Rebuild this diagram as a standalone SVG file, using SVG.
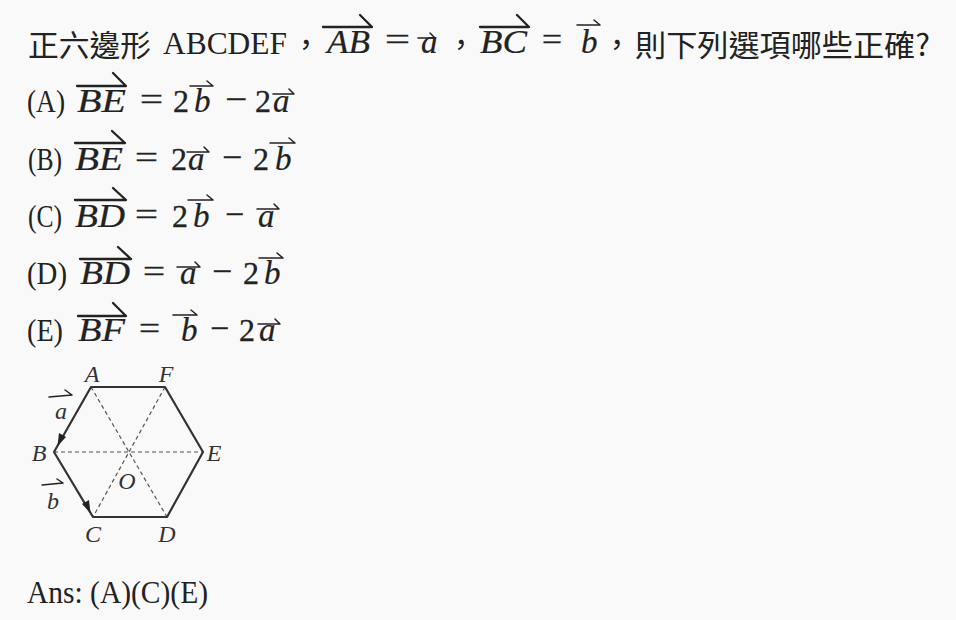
<svg xmlns="http://www.w3.org/2000/svg" width="956" height="620" viewBox="0 0 956 620">
<style>
.t{font-family:"Liberation Serif",serif;font-size:31px;fill:#222}
.d{font-family:"Liberation Serif",serif;font-size:32px;fill:#222;stroke:#222;stroke-width:0.3}
.o{font-family:"Liberation Serif",serif;font-size:32px;fill:#222;stroke:#222;stroke-width:0.4}
.c{font-family:"Noto Sans CJK TC","Noto Sans CJK SC",sans-serif;font-size:30px;fill:#222}
.m{font-family:"Liberation Serif",serif;font-style:italic;font-size:33px;fill:#222;stroke:#222;stroke-width:0.2}
.ar{stroke:#222;stroke-width:2.3;fill:none;stroke-linecap:round}
.va{stroke:#222;stroke-width:1.5;fill:none;stroke-linecap:round}
.lb{font-family:"Liberation Serif",serif;font-style:italic;font-size:24px;fill:#333}
.hx{stroke:#333;stroke-width:2.2;fill:none;stroke-linejoin:round}
.ds{stroke:#555;stroke-width:1.2;stroke-dasharray:4 3;fill:none}
</style>
<rect width="956" height="620" fill="#f9f9f9"/>

<g id="line-question">
<text class="c" x="28" y="56" textLength="123" lengthAdjust="spacingAndGlyphs">正六邊形</text>
<text class="t" x="163" y="54" font-size="29" textLength="124" lengthAdjust="spacingAndGlyphs">ABCDEF</text>
<text class="c" x="291" y="55">，</text>
<text class="m" x="327" y="53" font-size="31" textLength="43" lengthAdjust="spacingAndGlyphs">AB</text>
<path class="ar" d="M323 27H372M360 15L372 27"/>
<text class="o" x="385" y="50" textLength="25" lengthAdjust="spacingAndGlyphs">=</text>
<text class="m" x="421" y="53" font-size="31">a</text>
<path class="va" d="M418 38H435M430 33L435 38"/>
<text class="c" x="446" y="55">，</text>
<text class="m" x="480" y="53" font-size="31" textLength="47" lengthAdjust="spacingAndGlyphs">BC</text>
<path class="ar" d="M480 27H529M517 15L529 27"/>
<text class="o" x="542" y="50" textLength="20" lengthAdjust="spacingAndGlyphs">=</text>
<text class="m" x="581" y="53" font-size="31">b</text>
<path class="va" d="M577 25H600M594 20L600 25"/>
<text class="c" x="602" y="55">，</text>
<text class="c" x="635" y="56" textLength="295" lengthAdjust="spacingAndGlyphs">則下列選項哪些正確?</text>
</g>

<g id="option-a">
<text class="t" x="27" y="112" textLength="38" lengthAdjust="spacingAndGlyphs">(A)</text>
<text class="m" x="77" y="112" textLength="49" lengthAdjust="spacingAndGlyphs">BE</text>
<path class="ar" d="M77 86H126M113 73L126 86"/>
<text class="o" x="140" y="110" textLength="23" lengthAdjust="spacingAndGlyphs">=</text>
<text class="d" x="173" y="112">2</text>
<text class="m" x="194" y="112">b</text>
<path class="va" d="M190 86H213M207 81L213 86"/>
<text class="o" x="225" y="110" textLength="22" lengthAdjust="spacingAndGlyphs">−</text>
<text class="d" x="255" y="112">2</text>
<text class="m" x="273" y="112">a</text>
<path class="va" d="M273 94H294M289 89L294 94"/>
</g>

<g id="option-b">
<text class="t" x="28" y="170" textLength="34" lengthAdjust="spacingAndGlyphs">(B)</text>
<text class="m" x="75" y="170" textLength="48" lengthAdjust="spacingAndGlyphs">BE</text>
<path class="ar" d="M75 143H125M112 131L125 143"/>
<text class="o" x="135" y="168" textLength="23" lengthAdjust="spacingAndGlyphs">=</text>
<text class="d" x="171" y="170">2</text>
<text class="m" x="188" y="170">a</text>
<path class="va" d="M187 152H209M204 147L209 152"/>
<text class="o" x="222" y="168" textLength="20" lengthAdjust="spacingAndGlyphs">−</text>
<text class="d" x="253" y="170">2</text>
<text class="m" x="275" y="170">b</text>
<path class="va" d="M270 143H295M289 138L295 143"/>
</g>

<g id="option-c">
<text class="t" x="28" y="227" textLength="34" lengthAdjust="spacingAndGlyphs">(C)</text>
<text class="m" x="75" y="227" textLength="50" lengthAdjust="spacingAndGlyphs">BD</text>
<path class="ar" d="M75 200H126M113 188L126 200"/>
<text class="o" x="135" y="225" textLength="23" lengthAdjust="spacingAndGlyphs">=</text>
<text class="d" x="172" y="227">2</text>
<text class="m" x="193" y="227">b</text>
<path class="va" d="M188 200H213M207 195L213 200"/>
<text class="o" x="225" y="225" textLength="19" lengthAdjust="spacingAndGlyphs">−</text>
<text class="m" x="258" y="227">a</text>
<path class="va" d="M257 209H279M274 204L279 209"/>
</g>

<g id="option-d">
<text class="t" x="27" y="284" textLength="40" lengthAdjust="spacingAndGlyphs">(D)</text>
<text class="m" x="80" y="284" textLength="50" lengthAdjust="spacingAndGlyphs">BD</text>
<path class="ar" d="M80 259H131M118 247L131 259"/>
<text class="o" x="143" y="282" textLength="22" lengthAdjust="spacingAndGlyphs">=</text>
<text class="m" x="180" y="284">a</text>
<path class="va" d="M177 267H200M195 262L200 267"/>
<text class="o" x="212" y="282" textLength="20" lengthAdjust="spacingAndGlyphs">−</text>
<text class="d" x="243" y="284">2</text>
<text class="m" x="264" y="284">b</text>
<path class="va" d="M259 258H283M277 253L283 258"/>
</g>

<g id="option-e">
<text class="t" x="27" y="341" textLength="36" lengthAdjust="spacingAndGlyphs">(E)</text>
<text class="m" x="78" y="341" textLength="47" lengthAdjust="spacingAndGlyphs">BF</text>
<path class="ar" d="M78 316H126M113 303L126 316"/>
<text class="o" x="139" y="339" textLength="21" lengthAdjust="spacingAndGlyphs">=</text>
<text class="m" x="181" y="341">b</text>
<path class="va" d="M173 315H197M191 310L197 315"/>
<text class="o" x="210" y="339" textLength="19" lengthAdjust="spacingAndGlyphs">−</text>
<text class="d" x="239" y="341">2</text>
<text class="m" x="259" y="341">a</text>
<path class="va" d="M258 324H280M275 319L280 324"/>
</g>

<g id="hexagon-figure">
<path class="ds" d="M91 387L167 517M165 387L93 517M54 452H203"/>
<path class="hx" d="M91 387H165L203 452L167 517H93L54 452Z"/>
<path d="M57.5 446L59 433L66 437Z" fill="#222"/>
<path d="M90.5 513L82 504L89 500Z" fill="#222"/>
<text class="lb" x="92" y="382" text-anchor="middle">A</text>
<text class="lb" x="166" y="382" text-anchor="middle">F</text>
<text class="lb" x="39" y="461" text-anchor="middle">B</text>
<text class="lb" x="214" y="461" text-anchor="middle">E</text>
<text class="lb" x="93" y="542" text-anchor="middle">C</text>
<text class="lb" x="167" y="542" text-anchor="middle">D</text>
<text class="lb" x="127" y="489" text-anchor="middle">O</text>
<text class="lb" x="61" y="419" text-anchor="middle">a</text>
<path class="va" d="M49 397L72 395M65 390L72 395"/>
<text class="lb" x="53" y="509" text-anchor="middle">b</text>
<path class="va" d="M42 485L63 483M57 479L63 483"/>
</g>

<g id="answer">
<text class="t" x="27" y="603" textLength="181" lengthAdjust="spacingAndGlyphs">Ans: (A)(C)(E)</text>
</g>
</svg>
